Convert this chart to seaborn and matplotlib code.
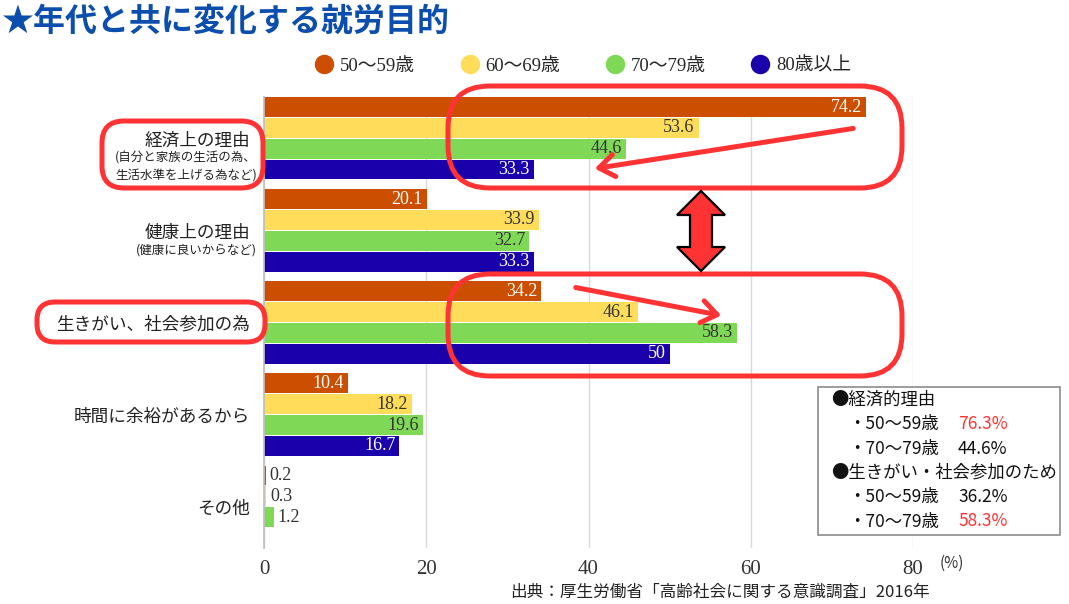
import pandas as pd
import matplotlib
matplotlib.use("Agg")
import matplotlib.pyplot as plt
import matplotlib.patches as mpatches
from matplotlib.lines import Line2D
from matplotlib.transforms import Affine2D
import seaborn as sns

reasons = ["経済上の理由", "健康上の理由", "生きがい、社会参加の為", "時間に余裕があるから", "その他"]
ages = ["50～59歳", "60～69歳", "70～79歳", "80歳以上"]
age_50s = [74.2, 20.1, 34.2, 10.4, 0.2]
age_60s = [53.6, 33.9, 46.1, 18.2, 0.3]
age_70s = [44.6, 32.7, 58.3, 19.6, 1.2]
age_80s = [33.3, 33.3, 50.0, 16.7, None]
sub_notes = {0: ["(自分と家族の生活の為、", "生活水準を上げる為など)"],
             1: ["(健康に良いからなど)"]}
xticks = [0, 20, 40, 60, 80]

summary_lines = [
    ("●経済的理由", "", False),
    ("・50～59歳", "76.3%", True),
    ("・70～79歳", "44.6%", False),
    ("●生きがい・社会参加のため", "", False),
    ("・50～59歳", "36.2%", False),
    ("・70～79歳", "58.3%", True),
]

colors = ["#CC4E00", "#FFDC5A", "#7FD957", "#1900AA"]
label_colors = ["white", "#333333", "#333333", "white"]
red = "#FF3333"
num_font = ["Liberation Serif", "Noto Sans CJK JP"]

W, H = 1069, 604

rows = []
for age, vals in zip(ages, [age_50s, age_60s, age_70s, age_80s]):
    for reason, v in zip(reasons, vals):
        if v is not None:
            rows.append({"reason": reason, "age": age, "value": v})
df = pd.DataFrame(rows)

sns.set_theme(style="white")
plt.rcParams["font.family"] = ["Noto Sans CJK JP", "DejaVu Sans"]

fig = plt.figure(figsize=(W / 100, H / 100), dpi=100)
ax = fig.add_axes([264 / W, 1 - 548 / H, 649 / W, 451 / H])

sns.barplot(data=df, y="reason", x="value", hue="age", order=reasons,
            hue_order=ages, palette=colors, saturation=1, orient="h",
            width=0.91, gap=0.08, linewidth=0, errorbar=None, legend=False, ax=ax)

for cont, tc in zip(ax.containers, label_colors):
    vals = cont.datavalues
    anns = ax.bar_label(cont, labels=[f"{v:g}" for v in vals], padding=3,
                        fontsize=13, family=num_font)
    for ann, v in zip(anns, vals):
        if v >= 5:
            ann.set_ha("right")
            ann.xyann = (-3, 0)
            ann.set_color(tc)
        else:
            ann.set_color("#333333")

ax.set_xlim(0, 80)
ax.set_ylim(4.45, -0.45)
ax.set_xticks(xticks)
ax.set_xlabel("")
ax.set_ylabel("")
ax.xaxis.grid(True, color="#D9D9D9", lw=1)
ax.set_axisbelow(True)
for s in ["top", "right", "bottom"]:
    ax.spines[s].set_visible(False)
ax.spines["left"].set_color("#BFBFBF")
ax.tick_params(axis="y", length=0, pad=10, labelsize=12.7, labelcolor="#222222")
ax.tick_params(axis="x", length=0, pad=9, labelsize=15, labelcolor="#333333")
for lbl in ax.get_xticklabels():
    lbl.set_fontfamily("Liberation Serif")

for i, notes in sub_notes.items():
    for j, note in enumerate(notes):
        ax.text(-0.011, i + 0.21 + 0.19 * j, note, transform=ax.get_yaxis_transform(),
                ha="right", va="center", fontsize=9, color="#222222")

# pixel coordinates for the decorations (y downward)
px = Affine2D().scale(1 / W, -1 / H).translate(0, 1) + fig.transFigure

fig.text(2, 22, "★年代と共に変化する就労目的", transform=px, ha="left", va="center",
         fontsize=23, fontweight="bold", color="#0B4EAD")

handles = [Line2D([], [], marker="o", ls="none", markersize=13,
                  markerfacecolor=c, markeredgecolor=c) for c in colors]
fig.legend(handles, ages, loc="center", bbox_to_anchor=(583 / W, 1 - 66 / H),
           ncol=4, frameon=False, prop={"family": num_font, "size": 13.5},
           handletextpad=0.35, columnspacing=2.4, handlelength=1)

# red outlines
for x0, y0, x1, y1, r in [(102, 121, 263, 188, 22), (37, 302, 265, 342, 18),
                          (448, 86, 902, 188, 42), (448, 274, 902, 376, 42)]:
    fig.add_artist(mpatches.FancyBboxPatch(
        (x0, y0), x1 - x0, y1 - y0, boxstyle=f"round,pad=0,rounding_size={r}",
        transform=px, facecolor="none", edgecolor=red, lw=3.6, zorder=5))

for start, end in [((856, 128), (592, 169)), ((573, 287), (724, 316))]:
    fig.add_artist(mpatches.FancyArrowPatch(
        start, end, transform=px, arrowstyle="->,head_length=0.55,head_width=0.4",
        mutation_scale=20, color=red, lw=3.6, capstyle="round", zorder=6))

cx = 701
dbl = [(cx, 191), (cx + 24, 215), (cx + 11, 215), (cx + 11, 247), (cx + 24, 247),
       (cx, 271), (cx - 24, 247), (cx - 11, 247), (cx - 11, 215), (cx - 24, 215)]
fig.add_artist(mpatches.Polygon(dbl, closed=True, transform=px, facecolor=red,
                                edgecolor="black", lw=1.6, joinstyle="miter", zorder=6))

# summary box
fig.add_artist(mpatches.Rectangle((818, 387), 242, 148, transform=px, facecolor="white",
                                  edgecolor="#8C8C8C", lw=1.2, zorder=5))
for k, (head, val, hot) in enumerate(summary_lines):
    y = 400 + 24.3 * k
    x = 831 if head.startswith("●") else 848
    fig.text(x, y, head, transform=px, ha="left", va="center", fontsize=12.5,
             color="#111111", zorder=7)
    if val:
        fig.text(958, y, val, transform=px, ha="left", va="center", fontsize=12.5,
                 color=red if hot else "#111111", zorder=7)

fig.text(952, 563, "(%)", transform=px, ha="center", va="center", fontsize=11,
         color="#333333")
fig.text(930, 592, "出典：厚生労働省「高齢社会に関する意識調査」2016年", transform=px,
         ha="right", va="center", fontsize=12, color="#222222")

fig.savefig("out.png", dpi=100)
